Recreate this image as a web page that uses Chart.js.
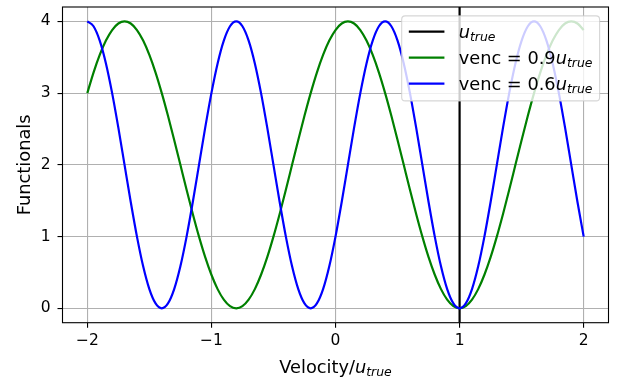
<!DOCTYPE html>
<html>
<head>
<meta charset="utf-8">
<script src="https://cdn.jsdelivr.net/npm/chart.js@4.4.0/dist/chart.umd.min.js"></script>
<style>
  html, body { margin: 0; padding: 0; background: #fff; }
  canvas { display: block; }
</style>
</head>
<body>
<canvas id="chart" width="620" height="379"></canvas>
<script>
// Velocity axis samples (in units of u_true)
const velocity = [
  -2, -1.95, -1.9, -1.85, -1.8, -1.75, -1.7, -1.65, -1.6, -1.55,
  -1.5, -1.45, -1.4, -1.35, -1.3, -1.25, -1.2, -1.15, -1.1, -1.05,
  -1, -0.95, -0.9, -0.85, -0.8, -0.75, -0.7, -0.65, -0.6, -0.55,
  -0.5, -0.45, -0.4, -0.35, -0.3, -0.25, -0.2, -0.15, -0.1, -0.05,
  0, 0.05, 0.1, 0.15, 0.2, 0.25, 0.3, 0.35, 0.4, 0.45,
  0.5, 0.55, 0.6, 0.65, 0.7, 0.75, 0.8, 0.85, 0.9, 0.95,
  1, 1.05, 1.1, 1.15, 1.2, 1.25, 1.3, 1.35, 1.4, 1.45,
  1.5, 1.55, 1.6, 1.65, 1.7, 1.75, 1.8, 1.85, 1.9, 1.95,
  2
];

// Functional for venc = 0.9 u_true
const functionalVenc09 = [
  3, 3.286, 3.532, 3.732, 3.879, 3.970, 4, 3.970, 3.879, 3.732,
  3.532, 3.286, 3, 2.684, 2.347, 2, 1.653, 1.316, 1, 0.714,
  0.468, 0.268, 0.121, 0.030, 0, 0.030, 0.121, 0.268, 0.468, 0.714,
  1, 1.316, 1.653, 2, 2.347, 2.684, 3, 3.286, 3.532, 3.732,
  3.879, 3.970, 4, 3.970, 3.879, 3.732, 3.532, 3.286, 3, 2.684,
  2.347, 2, 1.653, 1.316, 1, 0.714, 0.468, 0.268, 0.121, 0.030,
  0, 0.030, 0.121, 0.268, 0.468, 0.714, 1, 1.316, 1.653, 2,
  2.347, 2.684, 3, 3.286, 3.532, 3.732, 3.879, 3.970, 4, 3.970,
  3.879
];

// Functional for venc = 0.6 u_true
const functionalVenc06 = [
  4, 3.932, 3.732, 3.414, 3, 2.518, 2, 1.482, 1, 0.586, 0.268, 0.068,
  0, 0.068, 0.268, 0.586, 1, 1.482, 2, 2.518, 3, 3.414, 3.732, 3.932,
  4, 3.932, 3.732, 3.414, 3, 2.518, 2, 1.482, 1, 0.586, 0.268, 0.068,
  0, 0.068, 0.268, 0.586, 1, 1.482, 2, 2.518, 3, 3.414, 3.732, 3.932,
  4, 3.932, 3.732, 3.414, 3, 2.518, 2, 1.482, 1, 0.586, 0.268, 0.068,
  0, 0.068, 0.268, 0.586, 1, 1.482, 2, 2.518, 3, 3.414, 3.732, 3.932,
  4, 3.932, 3.732, 3.414, 3, 2.518, 2, 1.482, 1
];

const uTrue = 1;
const xTicks = [-2, -1, 0, 1, 2];
const yTicks = [0, 1, 2, 3, 4];
const xLimits = [-2.2, 2.2];
const yLimits = [-0.2, 4.2];

// Legend entries: plain prefix followed by italic u with subscript "true"
const legendEntries = [
  { prefix: '', color: '#000000' },
  { prefix: 'venc = 0.9', color: '#008000' },
  { prefix: 'venc = 0.6', color: '#0000ff' }
];
const xTitlePrefix = 'Velocity/';
const yTitle = 'Functionals';

const FAMILY = '"DejaVu Sans"';
const TICK_SIZE = 15.5;
const LABEL_SIZE = 17.8;
const LINE_W = 2.2;

function fmtTick(v) {
  return v < 0 ? '\u2212' + Math.abs(v) : String(v);
}

function mathParts(prefix, size) {
  return [
    { text: prefix, font: `${size}px ${FAMILY}`, dy: 0 },
    { text: 'u', font: `italic ${size}px ${FAMILY}`, dy: 0 },
    { text: 'true', font: `italic ${size * 0.7}px ${FAMILY}`, dy: size * 0.15 }
  ];
}

function measureParts(ctx, parts) {
  let total = 0;
  parts.forEach(p => { ctx.font = p.font; p.w = ctx.measureText(p.text).width; total += p.w; });
  return total;
}

function drawParts(ctx, parts, x, y, align) {
  const total = measureParts(ctx, parts);
  let cx = align === 'center' ? x - total / 2 : x;
  ctx.textAlign = 'left';
  ctx.textBaseline = 'alphabetic';
  parts.forEach(p => {
    ctx.font = p.font;
    ctx.fillText(p.text, cx, y + p.dy);
    cx += p.w;
  });
}

function roundRect(ctx, x, y, w, h, r) {
  ctx.beginPath();
  ctx.moveTo(x + r, y);
  ctx.lineTo(x + w - r, y);
  ctx.arcTo(x + w, y, x + w, y + r, r);
  ctx.lineTo(x + w, y + h - r);
  ctx.arcTo(x + w, y + h, x + w - r, y + h, r);
  ctx.lineTo(x + r, y + h);
  ctx.arcTo(x, y + h, x, y + h - r, r);
  ctx.lineTo(x, y + r);
  ctx.arcTo(x, y, x + r, y, r);
  ctx.closePath();
}

// Frame, legend and axis titles drawn on top of the plotted lines
const decorations = {
  id: 'decorations',
  afterDatasetsDraw(chart) {
    const ctx = chart.ctx;
    const a = chart.chartArea;
    ctx.save();

    // axes frame
    ctx.strokeStyle = '#000';
    ctx.lineWidth = 1.1;
    ctx.strokeRect(a.left, a.top, a.right - a.left, a.bottom - a.top);

    // legend
    const fs = LABEL_SIZE;
    const partsList = legendEntries.map(e => mathParts(e.prefix, fs));
    const textW = Math.max(...partsList.map(p => measureParts(ctx, p)));
    const boxW = fs * (0.4 + 2.0 + 0.8 + 0.4) + textW;
    const boxH = 85;
    const boxR = a.right - 0.5 * fs;
    const boxL = boxR - boxW;
    const boxT = a.top + 0.5 * fs;
    roundRect(ctx, boxL, boxT, boxW, boxH, 3.5);
    ctx.fillStyle = 'rgba(255,255,255,0.8)';
    ctx.fill();
    ctx.strokeStyle = 'rgba(204,204,204,0.8)';
    ctx.lineWidth = 1.1;
    ctx.stroke();

    legendEntries.forEach((e, i) => {
      const cy = boxT + 15.7 + i * 26;
      const hx = boxL + 0.4 * fs;
      ctx.strokeStyle = e.color;
      ctx.lineWidth = LINE_W;
      ctx.beginPath();
      ctx.moveTo(hx, cy);
      ctx.lineTo(hx + 2.0 * fs, cy);
      ctx.stroke();
      ctx.fillStyle = '#000';
      drawParts(ctx, partsList[i], hx + 2.8 * fs, cy + 6.3, 'left');
    });

    // x axis title
    ctx.fillStyle = '#000';
    drawParts(ctx, mathParts(xTitlePrefix, fs), (a.left + a.right) / 2, 373, 'center');

    // y axis title
    ctx.translate(29.5, (a.top + a.bottom) / 2);
    ctx.rotate(-Math.PI / 2);
    ctx.font = `${fs}px ${FAMILY}`;
    ctx.textAlign = 'center';
    ctx.textBaseline = 'alphabetic';
    ctx.fillText(yTitle, 0, 0);

    ctx.restore();
  }
};

const pairs = ys => velocity.map((v, i) => ({ x: v, y: ys[i] }));

const lineStyle = {
  borderWidth: LINE_W,
  pointRadius: 0,
  fill: false,
  cubicInterpolationMode: 'monotone'
};

const axisCommon = {
  type: 'linear',
  border: { display: false },
  grid: {
    color: '#b0b0b0',
    lineWidth: 1.1,
    tickColor: '#000',
    tickLength: 5,
    tickWidth: 1.1
  }
};

new Chart(document.getElementById('chart'), {
  type: 'line',
  data: {
    datasets: [
      { ...lineStyle, label: 'venc = 0.6u_true', data: pairs(functionalVenc06), borderColor: '#0000ff' },
      { ...lineStyle, label: 'venc = 0.9u_true', data: pairs(functionalVenc09), borderColor: '#008000' },
      { ...lineStyle, label: 'u_true', data: [{ x: uTrue, y: yLimits[0] }, { x: uTrue, y: yLimits[1] }], borderColor: '#000000' }
    ]
  },
  options: {
    responsive: false,
    animation: false,
    devicePixelRatio: 1,
    layout: { padding: { left: 0, right: 11.5, top: 7, bottom: 0 } },
    plugins: { legend: { display: false }, tooltip: { enabled: false } },
    scales: {
      x: {
        ...axisCommon,
        min: xLimits[0],
        max: xLimits[1],
        afterBuildTicks: ax => { ax.ticks = xTicks.map(v => ({ value: v })); },
        afterFit: s => { s.height = 56.3; s.paddingLeft = 0; s.paddingRight = 0; },
        ticks: {
          font: { family: 'DejaVu Sans', size: TICK_SIZE },
          color: '#000',
          padding: 4,
          maxRotation: 0,
          autoSkip: false,
          callback: v => fmtTick(v)
        }
      },
      y: {
        ...axisCommon,
        min: yLimits[0],
        max: yLimits[1],
        afterBuildTicks: ax => { ax.ticks = yTicks.map(v => ({ value: v })); },
        afterFit: s => { s.width = 62.5; s.paddingTop = 0; s.paddingBottom = 0; },
        ticks: {
          font: { family: 'DejaVu Sans', size: TICK_SIZE },
          color: '#000',
          padding: 7,
          autoSkip: false,
          callback: v => fmtTick(v)
        }
      }
    }
  },
  plugins: [decorations]
});
</script>
</body>
</html>
